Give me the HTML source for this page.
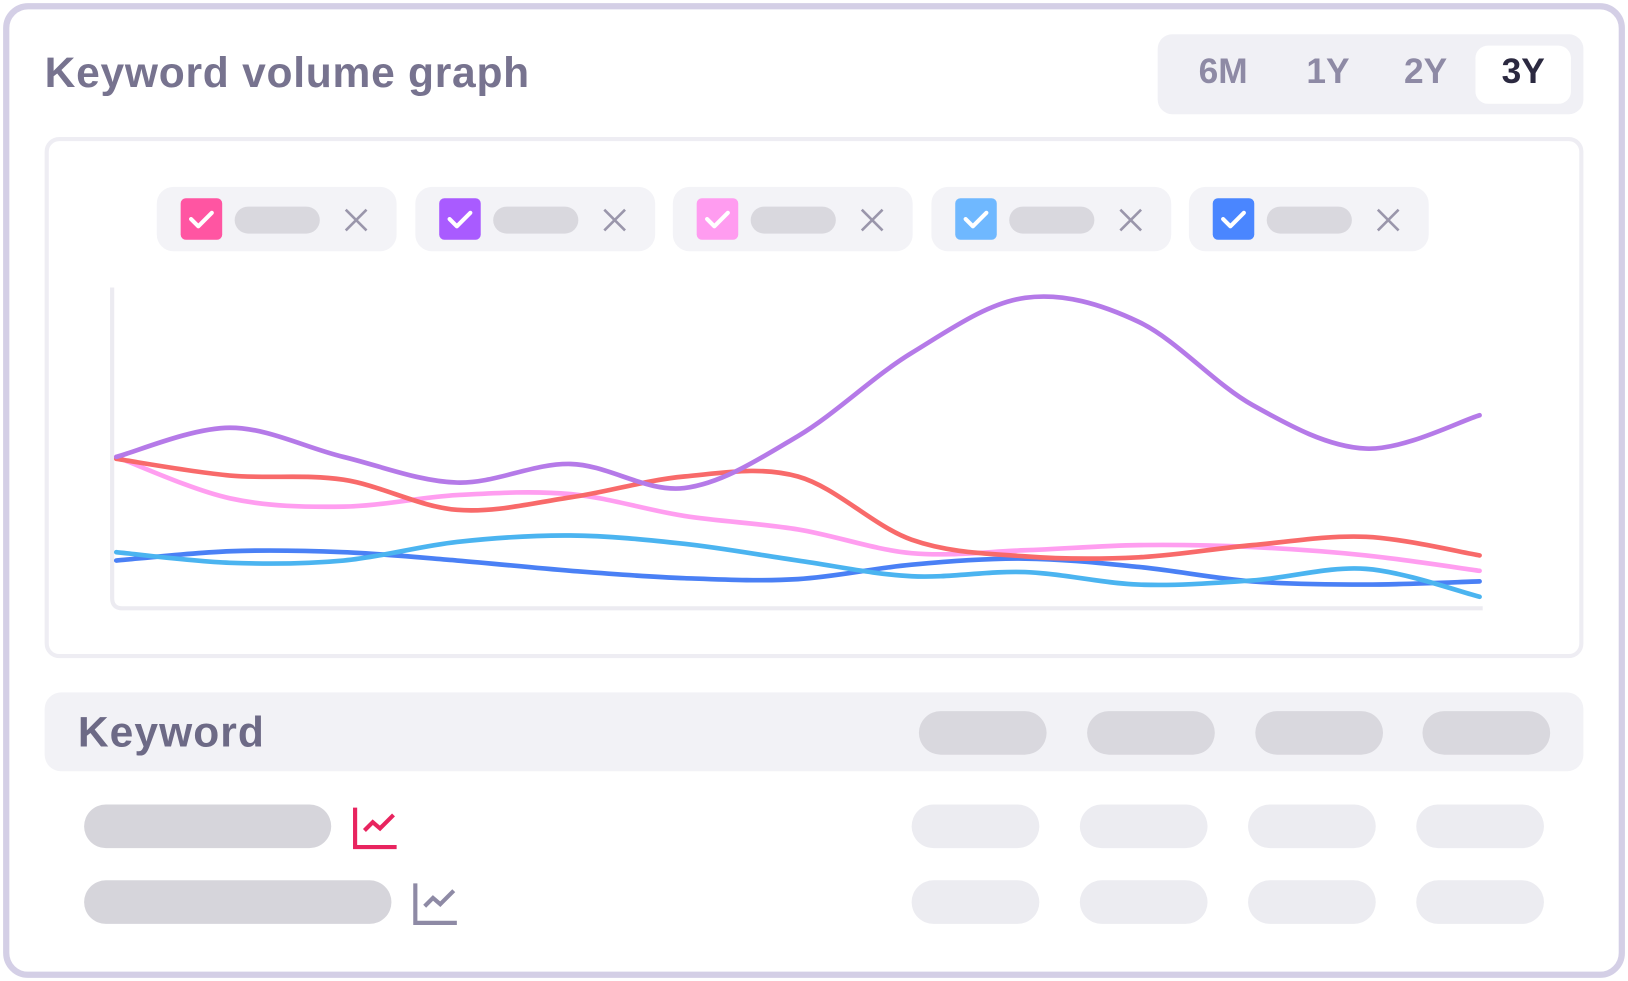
<!DOCTYPE html>
<html><head><meta charset="utf-8"><style>
html,body{margin:0;padding:0;background:#fff;width:1628px;height:981px;overflow:hidden}
#w{position:absolute;left:0;top:0;width:1568px;height:945px;transform:scale(1.0383,1.0381);transform-origin:0 0;font-family:"Liberation Sans",sans-serif}
.a{position:absolute}
.outer{left:3px;top:3px;width:1550px;height:927px;border:6px solid #d4cfe6;border-radius:24px}
.title{left:43px;top:47px;font-size:41px;font-weight:bold;color:#77738f;letter-spacing:0.7px}
.tb{left:1115px;top:33px;width:410px;height:77px;background:#f0f0f5;border-radius:14px}
.act{left:1421px;top:44px;width:92px;height:56px;background:#fff;border-radius:12px}
.tl{top:50px;font-size:34px;font-weight:bold;color:#8e8aa5;width:80px;text-align:center}
.panel{left:43px;top:132px;width:1474px;height:494px;border:4px solid #eeedf3;border-radius:14px}
.chip{top:180px;width:231px;height:62px;background:#f3f3f7;border-radius:16px}
.cb{left:23px;top:11px;width:40px;height:40px;border-radius:5px}
.pl{left:75px;top:19px;width:82px;height:26px;background:#d9d8de;border-radius:13px}
.x{left:180px;top:20px}
.th{left:43px;top:667px;width:1482px;height:76px;background:#f2f2f6;border-radius:16px}
.kw{left:75px;top:682px;font-size:41px;font-weight:bold;color:#6d6a86;letter-spacing:1px}
.hp{top:685px;width:123px;height:42px;background:#d9d8de;border-radius:21px}
.rc{width:123px;height:42px;background:#ececf1;border-radius:21px}
.rp{height:42px;background:#d6d5db;border-radius:21px}
</style></head><body>
<div id="w">
<div class="a outer"></div>
<div class="a title">Keyword volume graph</div>
<div class="a tb"></div>
<div class="a act"></div>
<div class="a tl" style="left:1138px">6M</div>
<div class="a tl" style="left:1239px">1Y</div>
<div class="a tl" style="left:1333px">2Y</div>
<div class="a tl" style="left:1427px;color:#2b2940">3Y</div>
<div class="a panel"></div>
<div id="chips"></div>
<svg class="a" style="left:0;top:0" width="1568" height="945">
<path d="M108 277 V576 Q108 586 118 586 H1428" fill="none" stroke="#ecebf1" stroke-width="4"/>
<g id="lines"></g>
</svg>
<div class="a th"></div>
<div class="a kw">Keyword</div>
<div class="a hp" style="left:885px"></div>
<div class="a hp" style="left:1047px"></div>
<div class="a hp" style="left:1209px"></div>
<div class="a hp" style="left:1370px"></div>
<div class="a rp" style="left:81px;top:775px;width:238px"></div>
<svg class="a" style="left:339px;top:776px" width="46" height="44"><path d="M3 2 V40 H43" fill="none" stroke="#e8245f" stroke-width="4"/><path d="M12 24 L20 16 L27 22 L40 9" fill="none" stroke="#e8245f" stroke-width="4"/></svg>
<div class="a rc" style="left:878px;top:775px"></div>
<div class="a rc" style="left:1040px;top:775px"></div>
<div class="a rc" style="left:1202px;top:775px"></div>
<div class="a rc" style="left:1364px;top:775px"></div>
<div class="a rp" style="left:81px;top:848px;width:296px"></div>
<svg class="a" style="left:397px;top:849px" width="46" height="44"><path d="M3 2 V40 H43" fill="none" stroke="#8e8aa5" stroke-width="4"/><path d="M12 24 L20 16 L27 22 L40 9" fill="none" stroke="#8e8aa5" stroke-width="4"/></svg>
<div class="a rc" style="left:878px;top:848px"></div>
<div class="a rc" style="left:1040px;top:848px"></div>
<div class="a rc" style="left:1202px;top:848px"></div>
<div class="a rc" style="left:1364px;top:848px"></div>
</div>
<script>
const categories=[0,1,2,3,4,5,6,7,8,9,10,11,12];
const purpleValues=[47.2,56.3,47.2,39.2,45.0,37.5,53.7,79.6,96.8,89.3,63.4,49.8,60.2];
const redValues=[46.6,41.4,40.1,30.7,34.6,41.1,41.1,21.4,16.2,15.9,19.7,22.3,16.5];
const pinkValues=[47.2,34.3,31.7,35.3,35.6,28.8,24.6,17.2,18.1,19.7,19.1,16.5,11.7];
const blueValues=[14.9,17.8,17.5,14.9,11.7,9.4,9.1,13.6,15.5,12.9,8.4,7.4,8.4];
const cyanValues=[17.5,14.2,14.9,20.7,22.7,20.1,14.9,10.0,11.3,7.4,8.7,12.3,3.6];
const chipColors=['#ff55a2','#a95bff','#ff9cf0','#6fb8ff','#4a86ff'];
function xs(i){return 112+i*(1425-112)/(categories.length-1);}
function ys(v){return 586-v*3.09;}
function path(vals){
  const p=vals.map((v,i)=>[xs(categories[i]),ys(v)]);
  let d='M'+p[0][0]+' '+p[0][1];
  for(let i=0;i<p.length-1;i++){
    const p0=p[Math.max(0,i-1)],p1=p[i],p2=p[i+1],p3=p[Math.min(p.length-1,i+2)];
    const c1x=p1[0]+(p2[0]-p0[0])/6,c1y=p1[1]+(p2[1]-p0[1])/6;
    const c2x=p2[0]-(p3[0]-p1[0])/6,c2y=p2[1]-(p3[1]-p1[1])/6;
    d+=` C${c1x} ${c1y} ${c2x} ${c2y} ${p2[0]} ${p2[1]}`;
  }
  return d;
}
const g=document.getElementById('lines');
[[blueValues,'#4a80f5','line-blue'],[cyanValues,'#4bb4f0','line-cyan'],[pinkValues,'#ff9ef0','line-pink'],[redValues,'#f86a6a','line-red'],[purpleValues,'#b57ae8','line-purple']].forEach(s=>{
  const el=document.createElementNS('http://www.w3.org/2000/svg','path');
  el.setAttribute('d',path(s[0]));
  el.setAttribute('fill','none');
  el.setAttribute('stroke',s[1]);
  el.setAttribute('stroke-width','4.5');
  el.setAttribute('stroke-linecap','round');
  
  
  g.appendChild(el);
});
const chips=document.getElementById('chips');
chipColors.forEach((c,i)=>{
  const d=document.createElement('div');
  d.className='a chip';
  d.style.left=(151+i*248.5)+'px';
  
  
  d.innerHTML=`<div class="a cb" style="background:${c}"><svg width="40" height="40"><path d="M10 20 L17 27 L30 14" fill="none" stroke="#fff" stroke-width="4" stroke-linecap="round" stroke-linejoin="round"/></svg></div><div class="a pl"></div><svg class="a x" width="24" height="24"><path d="M2 2 L22 22 M22 2 L2 22" stroke="#9a96ab" stroke-width="2.5"/></svg>`;
  chips.appendChild(d);
  const cb=d.querySelector('.cb');
  
  
  const x=d.querySelector('.x');
  
  
});
</script>
</body></html>
